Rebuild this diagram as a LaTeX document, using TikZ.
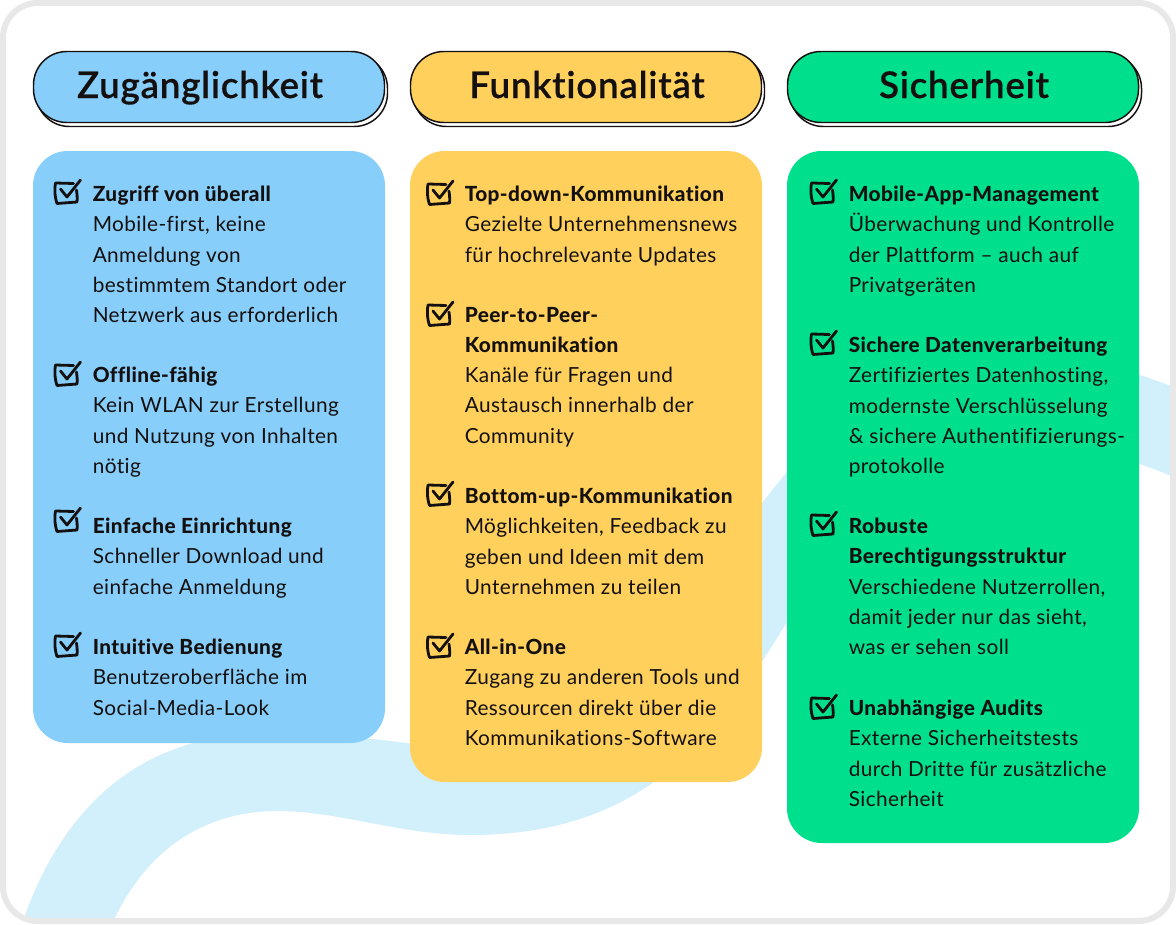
\documentclass[tikz,border=0pt]{standalone}
\usepackage{fontspec}
\setmainfont[BoldFont={Lato Heavy},Ligatures=NoCommon]{Lato}
\newfontfamily\headfont[Ligatures=NoCommon,FakeBold=0.35]{Lato Semibold}
\definecolor{ink}{HTML}{14100F}
\definecolor{cblue}{HTML}{87CEFB}
\definecolor{cyellow}{HTML}{FFD05B}
\definecolor{cgreen}{HTML}{00E08C}
\definecolor{band}{HTML}{D2F0FC}
\definecolor{frame}{HTML}{E8E8E8}
\tikzset{
  x=0.75pt,y=-0.75pt,
  card/.style={rounded corners=26pt,draw=none},
  pill/.style={rounded corners=25pt,draw=ink,line width=1.1pt},
  head/.style={font=\headfont\fontsize{27.6}{32}\selectfont\addfontfeature{LetterSpace=2},text=ink,inner sep=0pt,anchor=base},
  entry/.style={font=\fontsize{15.6}{22.63}\selectfont\addfontfeature{LetterSpace=2},text=ink,inner sep=0pt,anchor=north west,align=left},
  pics/tick/.style={code={
    \draw[ink,line width=2.1pt,line cap=round,line join=round,fill=none]
      (18,-9.5) -- (0,-10) .. controls (-1,-5) and (-1,3) .. (1.5,10.5) -- (21.5,9) .. controls (22,5) and (21.5,1) .. (21,-3);
    \draw[ink,line width=2.1pt,line cap=round,line join=round,fill=none]
      (5,-4) -- (11.5,4) -- (25,-13);
  }}
}
\newcommand{\entryitem}[6]{%
  \pic at (#1,#3) {tick};
  \node[entry] (#5) at (#2,{#4-8}) {#6};
}
\begin{document}
\begin{tikzpicture}
\useasboundingbox (0,0) rectangle (1176,924);
\fill[white] (0,0) rectangle (1176,924);
\begin{scope}
\clip[rounded corners=26pt] (3,3) rectangle (1173,921);
\fill[band] (22,924)
  .. controls (50,840) and (110,750) .. (230,736)
  .. controls (290,730) and (360,735) .. (470,752)
  .. controls (600,760) and (680,600) .. (787,472)
  .. controls (860,385) and (980,310) .. (1176,388)
  -- (1176,478)
  .. controls (1040,420) and (930,430) .. (787,622)
  .. controls (720,730) and (650,835) .. (470,835)
  .. controls (400,835) and (340,811) .. (277,811)
  .. controls (215,811) and (150,840) .. (112,924)
  -- cycle;
\end{scope}
\draw[frame,line width=4.5pt,rounded corners=26pt] (3,3) rectangle (1173,921);

\fill[cblue,card] (33,151) rectangle (385,743);
\fill[cyellow,card] (410,151) rectangle (762,782);
\fill[cgreen,card] (787,151) rectangle (1139,843);

\draw[pill,fill=white] (36,55) rectangle (387.5,126.5);
\draw[pill,fill=cblue] (33.5,51.5) rectangle (384.5,122.5);
\draw[pill,fill=white] (413,55) rectangle (764.5,126.5);
\draw[pill,fill=cyellow] (410.5,51.5) rectangle (761.5,122.5);
\draw[pill,fill=white] (790,55) rectangle (1141.5,126.5);
\draw[pill,fill=cgreen] (787.5,51.5) rectangle (1138.5,122.5);

\node[head] (h1) at (200,98) {Zugänglichkeit};
\node[head] (h2) at (587,98) {Funktionalität};
\node[head] (h3) at (964,98) {Sicherheit};

\entryitem{55.5}{92.5}{193}{194}{a1}{\textbf{Zugriff von überall}\\Mobile-first, keine\\Anmeldung von\\bestimmtem Standort oder\\Netzwerk aus erforderlich}
\entryitem{55.5}{92.5}{375}{375}{a2}{\textbf{Offline-fähig}\\Kein WLAN zur Erstellung\\und Nutzung von Inhalten\\nötig}
\entryitem{55.5}{92.5}{521}{526}{a3}{\textbf{Einfache Einrichtung}\\Schneller Download und\\einfache Anmeldung}
\entryitem{55.5}{92.5}{646}{647}{a4}{\textbf{Intuitive Bedienung}\\Benutzeroberfläche im\\Social-Media-Look}

\entryitem{428}{464.5}{194}{194}{b1}{\textbf{Top-down-Kommunikation}\\Gezielte Unternehmensnews\\für hochrelevante Updates}
\entryitem{428}{464.5}{315}{315}{b2}{\textbf{Peer-to-Peer-}\\\textbf{Kommunikation}\\Kanäle für Fragen und\\Austausch innerhalb der\\Community}
\entryitem{428}{464.5}{495}{496}{b3}{\textbf{Bottom-up-Kommunikation}\\Möglichkeiten, Feedback zu\\geben und Ideen mit dem\\Unternehmen zu teilen}
\entryitem{428}{464.5}{647}{647}{b4}{\textbf{All-in-One}\\Zugang zu anderen Tools und\\Ressourcen direkt über die\\Kommunikations-Software}

\entryitem{811.5}{848.5}{193}{194}{c1}{\textbf{Mobile-App-Management}\\Überwachung und Kontrolle\\der Plattform – auch auf\\Privatgeräten}
\entryitem{811.5}{848.5}{344}{345}{c2}{\textbf{Sichere Datenverarbeitung}\\Zertifiziertes Datenhosting,\\modernste Verschlüsselung\\\& sichere Authentifizierungs-\\protokolle}
\entryitem{811.5}{848.5}{525}{526}{c3}{\textbf{Robuste}\\\textbf{Berechtigungsstruktur}\\Verschiedene Nutzerrollen,\\damit jeder nur das sieht,\\was er sehen soll}
\entryitem{811.5}{848.5}{708}{708}{c4}{\textbf{Unabhängige Audits}\\Externe Sicherheitstests\\durch Dritte für zusätzliche\\Sicherheit}
\end{tikzpicture}
\end{document}
